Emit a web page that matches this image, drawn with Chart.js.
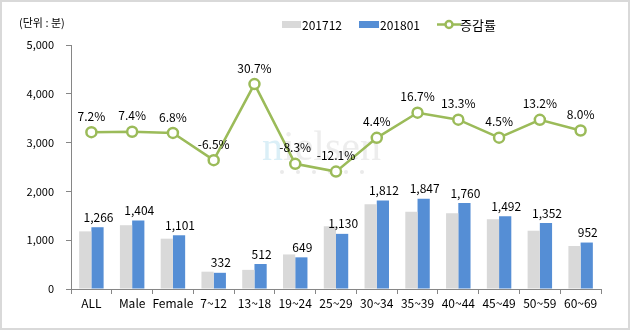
<!DOCTYPE html>
<html>
<head>
<meta charset="utf-8">
<script src="https://cdn.jsdelivr.net/npm/chart.js@4"></script>
<style>
  body { margin: 0; background: #fff; }
  #wrap { position: relative; width: 630px; height: 330px; }
  #frame { position: absolute; left: 0; top: 0; width: 630px; height: 330px; box-sizing: border-box; border: 2px solid #d9d9d9; pointer-events: none; }
</style>
</head>
<body>
<div id="wrap">
  <canvas id="chart" width="630" height="330"></canvas>
  <div id="frame"></div>
</div>
<script>
const categories = ["ALL", "Male", "Female", "7~12", "13~18", "19~24", "25~29", "30~34", "35~39", "40~44", "45~49", "50~59", "60~69"];
const minutes201712 = [1181, 1307, 1031, 355, 392, 708, 1286, 1736, 1583, 1553, 1428, 1194, 881];
const minutes201801 = [1266, 1404, 1101, 332, 512, 649, 1130, 1812, 1847, 1760, 1492, 1352, 952];
const changeRate = [7.2, 7.4, 6.8, -6.5, 30.7, -8.3, -12.1, 4.4, 16.7, 13.3, 4.5, 13.2, 8.0];
const yTicks = [0, 1000, 2000, 3000, 4000, 5000];

const FONT = "'Noto Sans CJK KR', 'Noto Sans', sans-serif";
const GRAY = "#d9d9d9";
const BLUE = "#558ed5";
const GREEN = "#9bbb59";

const fmt = (v) => v.toLocaleString("en-US");

// 값 라벨 + 범례 + 워터마크
const decorations = {
  id: "decorations",
  beforeDatasetsDraw(chart) {
    const ctx = chart.ctx;
    ctx.save();
    ctx.font = "42px 'Liberation Serif', 'DejaVu Serif', serif";
    ctx.textBaseline = "alphabetic";
    ctx.fillStyle = "rgba(190,225,240,0.55)";
    ctx.fillText("n", 262, 160);
    ctx.fillStyle = "rgba(225,225,225,0.6)";
    ctx.fillText("ielsen", 262 + ctx.measureText("n").width, 160);
    ctx.fillStyle = "rgba(225,225,225,0.7)";
    for (let i = 0; i < 6; i++) {
      ctx.beginPath();
      ctx.arc(282 + i * 16, 172, 2, 0, Math.PI * 2);
      ctx.fill();
    }
    ctx.restore();
  },
  afterDatasetsDraw(chart) {
    const ctx = chart.ctx;
    ctx.save();
    ctx.fillStyle = "#000";
    ctx.font = "12px " + FONT;
    ctx.textAlign = "center";
    ctx.textBaseline = "bottom";

    chart.getDatasetMeta(2).data.forEach((bar, i) => {
      ctx.fillText(fmt(minutes201801[i]), bar.x + 1, bar.y - 4);
    });
    chart.getDatasetMeta(0).data.forEach((pt, i) => {
      ctx.fillText(changeRate[i].toFixed(1) + "%", pt.x, pt.y - 10);
    });

    // title
    ctx.textAlign = "left";
    ctx.textBaseline = "middle";
    ctx.font = "11px " + FONT;
    ctx.fillText("(단위 : 분)", 19, 23);

    // legend
    ctx.font = "12px " + FONT;
    ctx.fillStyle = GRAY;
    ctx.fillRect(282, 21, 19, 7);
    ctx.fillStyle = "#000";
    ctx.fillText("201712", 302, 25);
    ctx.fillStyle = BLUE;
    ctx.fillRect(359, 21, 20, 7);
    ctx.fillStyle = "#000";
    ctx.fillText("201801", 380, 25);
    ctx.strokeStyle = GREEN;
    ctx.lineWidth = 2.5;
    ctx.beginPath();
    ctx.moveTo(437, 24.5);
    ctx.lineTo(461, 24.5);
    ctx.stroke();
    ctx.fillStyle = "#fff";
    ctx.beginPath();
    ctx.arc(449, 24.5, 3.5, 0, Math.PI * 2);
    ctx.fill();
    ctx.stroke();
    ctx.fillStyle = "#000";
    ctx.font = "13px " + FONT;
    ctx.fillText("증감률", 460, 25);
    ctx.restore();
  }
};

new Chart(document.getElementById("chart"), {
  data: {
    labels: categories,
    datasets: [
      {
        type: "line",
        label: "증감률",
        data: changeRate,
        yAxisID: "y2",
        borderColor: GREEN,
        backgroundColor: "#fff",
        borderWidth: 2.5,
        pointRadius: 5,
        pointBorderWidth: 2.5,
        pointBackgroundColor: "#fff",
        pointBorderColor: GREEN,
        tension: 0,
        order: 0
      },
      {
        type: "bar",
        label: "201712",
        data: minutes201712,
        backgroundColor: GRAY,
        categoryPercentage: 0.6,
        barPercentage: 1.0,
        order: 1
      },
      {
        type: "bar",
        label: "201801",
        data: minutes201801,
        backgroundColor: BLUE,
        categoryPercentage: 0.6,
        barPercentage: 1.0,
        order: 2
      }
    ]
  },
  options: {
    responsive: false,
    animation: false,
    layout: { padding: { top: 45, right: 29, bottom: 10, left: 0 } },
    plugins: {
      legend: { display: false },
      tooltip: { enabled: false }
    },
    scales: {
      x: {
        grid: { display: true, drawOnChartArea: false, tickLength: 5, color: "#868686", offset: true },
        border: { color: "#868686" },
        ticks: { color: "#000", font: { family: FONT, size: 12 }, padding: 2, maxRotation: 0, autoSkip: false },
        afterFit(s) { s.height = 31; }
      },
      y: {
        min: 0,
        max: 5000,
        afterBuildTicks(s) { s.ticks = yTicks.map((v) => ({ value: v })); },
        grid: { display: true, drawOnChartArea: false, tickLength: 5, color: "#868686" },
        border: { color: "#868686" },
        ticks: { color: "#000", font: { family: FONT, size: 11 }, padding: 12, callback: (v) => fmt(v) },
        afterFit(s) { s.width = 71; }
      },
      y2: {
        display: false,
        position: "right",
        min: -69.5,
        max: 49.8
      }
    }
  },
  plugins: [decorations]
});
</script>
</body>
</html>
